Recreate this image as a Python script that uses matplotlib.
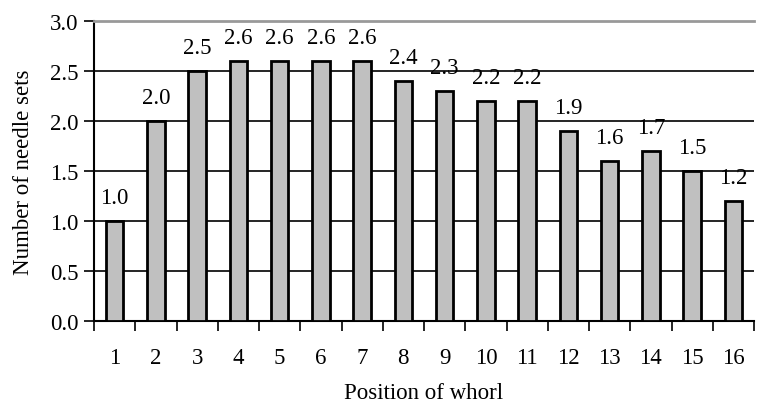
import matplotlib
matplotlib.use("Agg")
import matplotlib.pyplot as plt
import numpy as np

positions = [str(i) for i in range(1, 17)]
values = [1.0, 2.0, 2.5, 2.6, 2.6, 2.6, 2.6, 2.4, 2.3, 2.2, 2.2, 1.9, 1.6, 1.7, 1.5, 1.2]
yticks = [0.0, 0.5, 1.0, 1.5, 2.0, 2.5, 3.0]

plt.rcParams['font.family'] = ['Liberation Serif', 'DejaVu Serif']
FS = 16.5

fig = plt.figure(figsize=(7.57, 4.10), dpi=100)
ax = fig.add_axes([94/757, 1 - 322/410, (754-94)/757, 300/410])

x = np.arange(len(positions))
ax.bar(x, values, width=0.42, color='#C0C0C0', edgecolor='black', linewidth=2, zorder=3)
for xi, v in zip(x, values):
    ax.text(xi, v + 0.13, f"{v:.1f}", ha='center', va='bottom', fontsize=FS, zorder=1)

ax.set_xlim(-0.5, len(positions) - 0.5)
ax.set_ylim(0, 3.0)
ax.set_yticks(yticks)
ax.set_yticklabels([f"{t:.1f}" for t in yticks], fontsize=FS)
ax.yaxis.grid(True, color='black', linewidth=1.2, zorder=0)
ax.set_axisbelow(True)

ax.set_xticks(x)
ax.set_xticklabels(positions, fontsize=FS)
ax.tick_params(axis='x', length=0, pad=19)
ax.set_xticks(np.arange(-0.5, len(positions), 1), minor=True)
ax.tick_params(axis='x', which='minor', length=7, width=1.2, direction='out')
ax.tick_params(axis='y', length=7, width=1.2, direction='out', pad=4)

ax.spines['top'].set_color('#999999')
ax.spines['top'].set_linewidth(2)
ax.spines['right'].set_visible(False)
ax.spines['left'].set_linewidth(1.5)
ax.spines['bottom'].set_linewidth(1.5)

ax.set_xlabel("Position of whorl", fontsize=FS, labelpad=10)
ax.set_ylabel("Number of needle sets", fontsize=FS, labelpad=12)

fig.savefig("out.png", dpi=100)
